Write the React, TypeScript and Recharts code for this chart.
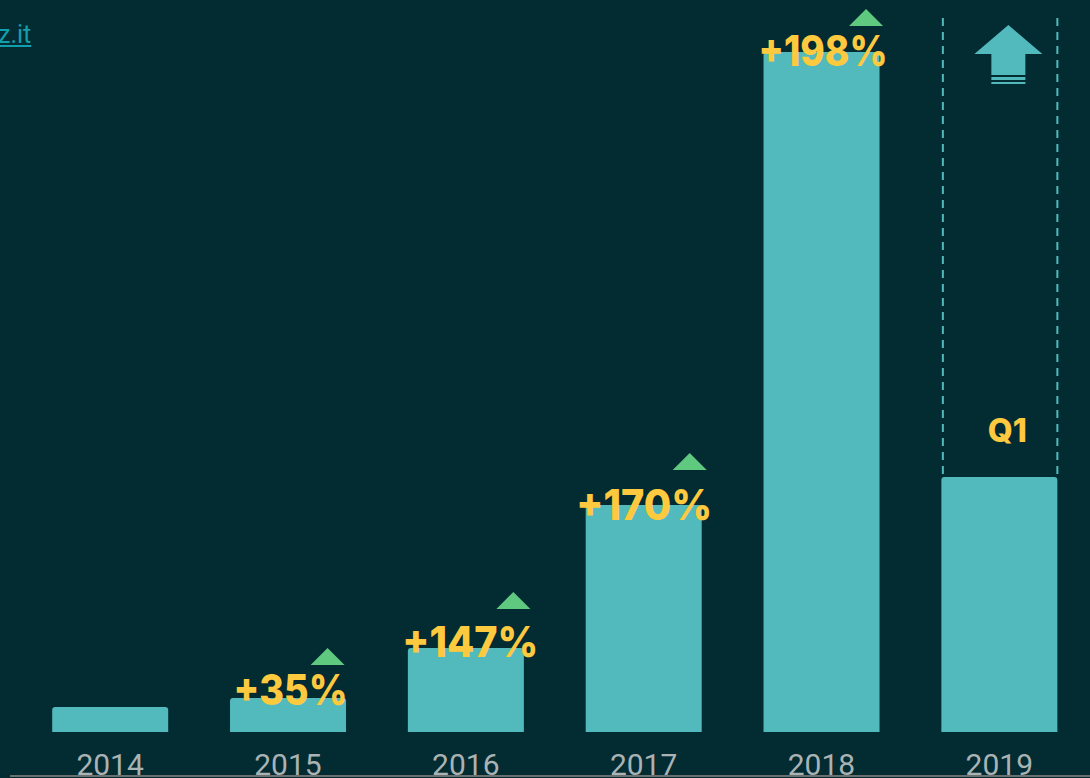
import { BarChart, Bar, XAxis, YAxis, LabelList } from 'recharts';

const years = ['2014', '2015', '2016', '2017', '2018', '2019'];
const totals = [25, 34, 84, 227, 680, 255];
// dashed part above 2019, the year is not finished
const projected = [null, null, null, null, null, 459];
const growth = ['', '+35%', '+147%', '+170%', '+198%', ''];

const chartData = years.map((year, i) => ({
  year,
  total: totals[i],
  projected: projected[i],
  growth: growth[i],
}));

const TEAL = '#52babd';
const YELLOW = '#fdc93f';
const GREEN = '#5ec97f';
const BG = '#032b32';

// label and arrow placement relative to each bar
const placement: Record<string, any> = {
  '+35%': { dx: 2.5, dy: 7, width: 114, arrowDx: 39.5, arrowDy: -33 },
  '+147%': { dx: 4.5, dy: 9, width: 136, arrowDx: 47.5, arrowDy: -39 },
  '+170%': { dx: 0.5, dy: 15, width: 136, arrowDx: 46, arrowDy: -35 },
  '+198%': { dx: 1.5, dy: 14, width: 129, arrowDx: 44.5, arrowDy: -26 },
};

const GrowthLabel = ({ x, y, width, value }: any) => {
  const p = placement[value];
  if (!p) return null;
  const cx = x + width / 2;
  const ax = cx + p.arrowDx;
  const ay = y + p.arrowDy;
  return (
    <g>
      <polygon points={`${ax - 17},${ay} ${ax},${ay - 17} ${ax + 17},${ay}`} fill={GREEN} />
      <text
        x={cx + p.dx}
        y={y + p.dy}
        textAnchor="middle"
        fontFamily="Inter"
        fontWeight={800}
        fontSize={42}
        fill={YELLOW}
        textLength={p.width}
        lengthAdjust="spacingAndGlyphs"
      >
        {value}
      </text>
    </g>
  );
};

const ProjectedShape = ({ x, y, width, height }: any) => {
  if (!height) return null;
  const bottom = y + height;
  const cx = x + width / 2 + 9;
  return (
    <g>
      <line x1={x + 1.5} x2={x + 1.5} y1={y} y2={bottom} stroke={TEAL} strokeWidth={2} strokeDasharray="8 6" />
      <line x1={x + width} x2={x + width} y1={y} y2={bottom} stroke={TEAL} strokeWidth={2} strokeDasharray="8 6" />
      <polygon
        points={`${cx},${y + 7} ${cx + 34},${y + 36} ${cx + 17},${y + 36} ${cx + 17},${y + 57} ${cx - 17},${y + 57} ${cx - 17},${y + 36} ${cx - 34},${y + 36}`}
        fill={TEAL}
      />
      <rect x={cx - 17} y={y + 59} width={34} height={3} fill={TEAL} />
      <rect x={cx - 17} y={y + 64} width={34} height={2} fill={TEAL} />
      <text
        x={cx - 1}
        y={bottom - 35}
        textAnchor="middle"
        fontFamily="Inter"
        fontWeight={800}
        fontSize={32}
        fill={YELLOW}
      >
        Q1
      </text>
    </g>
  );
};

export default function App() {
  return (
    <div style={{ position: 'absolute', left: 0, top: 0, width: 1090, height: 778, background: BG, overflow: 'hidden' }}>
      <div
        style={{
          position: 'absolute',
          left: -2,
          top: 20,
          fontFamily: 'Roboto',
          fontSize: 25,
          lineHeight: '29px',
          color: '#0f9fae',
          textDecoration: 'underline',
        }}
      >
        z.it
      </div>
      <BarChart
        width={1090}
        height={778}
        data={chartData}
        margin={{ top: 0, right: 1.8, bottom: 0, left: 21.2 }}
        barSize={116}
      >
        <XAxis
          dataKey="year"
          height={46}
          axisLine={false}
          tickLine={false}
          interval={0}
          tickMargin={16}
          tick={{ fontFamily: 'Roboto', fontWeight: 400, fontSize: 30, fill: '#aab3b4' }}
        />
        <YAxis hide domain={[0, 732]} />
        <Bar dataKey="total" stackId="a" fill={TEAL} radius={[3, 3, 0, 0]} isAnimationActive={false}>
          <LabelList dataKey="growth" content={GrowthLabel} />
        </Bar>
        <Bar dataKey="projected" stackId="a" shape={ProjectedShape} isAnimationActive={false} />
      </BarChart>
      <div style={{ position: 'absolute', left: 10, right: 0, top: 775, height: 2, background: '#6a6f70' }} />
    </div>
  );
}
